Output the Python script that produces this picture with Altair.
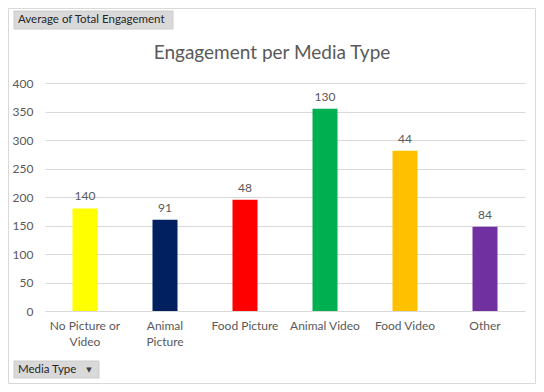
import altair as alt
import pandas as pd

categories = ["No Picture or Video", "Animal Picture", "Food Picture", "Animal Video", "Food Video", "Other"]
avg_engagement = [180, 160, 195, 355, 281, 148]
label_values = [140, 91, 48, 130, 44, 84]
bar_colors = ["#FFFF00", "#002060", "#FF0000", "#00B050", "#FFC000", "#7030A0"]
y_ticks = [0, 50, 100, 150, 200, 250, 300, 350, 400]

FONT = "Lato"
GRAY = "#595959"

df = pd.DataFrame({"media": categories, "avg": avg_engagement, "lbl": label_values})

label_expr = ("datum.value == 'No Picture or Video' ? ['No Picture or', 'Video'] : "
              "datum.value == 'Animal Picture' ? ['Animal', 'Picture'] : datum.value")

x_enc = alt.X("media:N", sort=categories, title=None,
              scale=alt.Scale(paddingInner=0.6875, paddingOuter=0.34375),
              axis=alt.Axis(labelAngle=0, labelExpr=label_expr, labelColor=GRAY, labelFont=FONT,
                            labelFontSize=12, labelLineHeight=16, labelPadding=9, ticks=False,
                            domainColor="#d9d9d9", labelBaseline="top"))
y_enc = alt.Y("avg:Q", title=None, scale=alt.Scale(domain=[0, 400], nice=False),
              axis=alt.Axis(values=y_ticks, labelColor=GRAY, labelFont=FONT, labelFontSize=12,
                            labelPadding=12, ticks=False, domain=False, gridColor="#d9d9d9",
                            labelOverlap=False))

bars = alt.Chart(df).mark_bar().encode(
    x=x_enc, y=y_enc,
    color=alt.Color("media:N", scale=alt.Scale(domain=categories, range=bar_colors), legend=None),
)

texts = alt.Chart(df).mark_text(font=FONT, fontSize=12, color=GRAY, baseline="bottom", dy=-5).encode(
    x=x_enc, y=y_enc, text="lbl:Q",
)

one = pd.DataFrame({"k": [0]})

border = alt.Chart(one).mark_rect(fill=None, stroke="#d9d9d9", strokeWidth=1).encode(
    x=alt.value(-36.5), x2=alt.value(490.5), y=alt.value(-74.5), y2=alt.value(300.5)
)

top_btn = alt.Chart(one).mark_rect(fill="#d9d9d9", stroke="#cccccc").encode(
    x=alt.value(-31), x2=alt.value(128), y=alt.value(-72), y2=alt.value(-54)
)
top_txt = alt.Chart(one).mark_text(font=FONT, fontSize=11.5, color="#262626", align="left",
                                   baseline="middle", text="Average of Total Engagement").encode(
    x=alt.value(-27), y=alt.value(-63)
)

title = alt.Chart(one).mark_text(font=FONT, fontSize=19, color=GRAY, align="center",
                                 baseline="middle", text="Engagement per Media Type").encode(
    x=alt.value(227), y=alt.value(-30)
)

bot_btn = alt.Chart(one).mark_rect(fill="#d9d9d9", stroke="#cccccc").encode(
    x=alt.value(-31), x2=alt.value(54), y=alt.value(278), y2=alt.value(295)
)
bot_txt = alt.Chart(one).mark_text(font=FONT, fontSize=11.5, color="#262626", align="left",
                                   baseline="middle", text="Media Type").encode(
    x=alt.value(-27), y=alt.value(286.5)
)
bot_arrow = alt.Chart(one).mark_text(font="DejaVu Sans", fontSize=7, color="#404040", align="center",
                                     baseline="middle", text="▼").encode(
    x=alt.value(44), y=alt.value(286.5)
)

chart = alt.layer(border, bars, texts, top_btn, top_txt, title, bot_btn, bot_txt, bot_arrow).properties(
    width=480, height=228,
    autosize=alt.AutoSizeParams(type="none"),
    padding={"left": 37, "top": 75, "right": 11, "bottom": 73},
    background="white",
).configure_view(stroke=None)

chart.save("out.html", embed_options={"renderer": "svg", "actions": False})
